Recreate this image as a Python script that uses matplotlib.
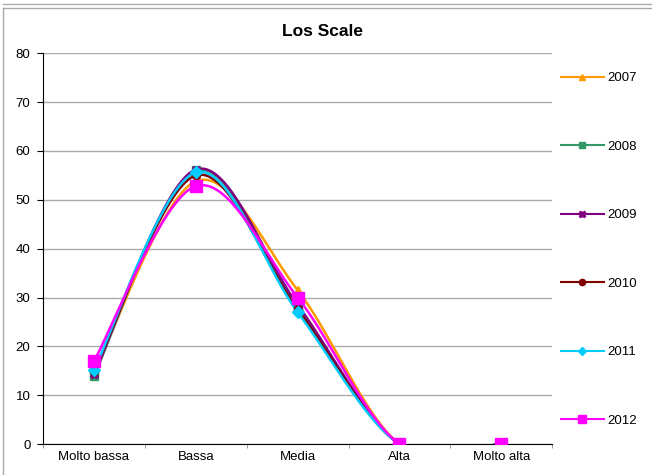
import numpy as np
import matplotlib.pyplot as plt
from matplotlib.lines import Line2D

plt.rcParams['font.family'] = ['Liberation Sans', 'DejaVu Sans']

# data
categories = ['Molto bassa', 'Bassa', 'Media', 'Alta', 'Molto alta']
years = ['2007', '2008', '2009', '2010', '2011', '2012']
v2007 = [14.7, 53.8, 31.5, 0, 0]
v2008 = [14.0, 56.0, 28.0, 0, 0]
v2009 = [14.3, 56.2, 28.5, 0, 0]
v2010 = [15.0, 55.0, 27.5, 0, 0]
v2011 = [15.2, 55.6, 27.0, 0, 0]
v2012 = [17.0, 52.8, 30.0, 0, 0]
series = [v2007, v2008, v2009, v2010, v2011, v2012]

colors = ['#FF9900', '#339966', '#800080', '#800000', '#00CCFF', '#FF00FF']
markers = ['^', 's', 'X', 'o', 'D', 's']
msizes = [6, 6, 6, 6, 6, 9]


def smooth(x, y, n=40):
    # excel-like smoothed line (bezier through points, catmull-rom tangents)
    x = np.asarray(x, float)
    y = np.asarray(y, float)
    xs, ys = [], []
    for i in range(len(x) - 1):
        p0 = np.array([x[max(i - 1, 0)], y[max(i - 1, 0)]])
        p1 = np.array([x[i], y[i]])
        p2 = np.array([x[i + 1], y[i + 1]])
        p3 = np.array([x[min(i + 2, len(x) - 1)], y[min(i + 2, len(x) - 1)]])
        c1 = p1 + (p2 - p0) / 6
        c2 = p2 - (p3 - p1) / 6
        t = np.linspace(0, 1, n)[:, None]
        pts = ((1 - t) ** 3 * p1 + 3 * (1 - t) ** 2 * t * c1
               + 3 * (1 - t) * t ** 2 * c2 + t ** 3 * p2)
        xs.extend(pts[:, 0])
        ys.extend(pts[:, 1])
    return np.array(xs), np.array(ys)


fig = plt.figure(figsize=(6.52, 4.75), dpi=100)
ax = fig.add_axes([0.066, 0.065, 0.781, 0.823])

xpos = np.arange(len(categories))
handles = []
for vals, c, m, ms, yr in zip(series, colors, markers, msizes, years):
    sx, sy = smooth(xpos, vals)
    ax.plot(sx, sy, color=c, lw=1.8, solid_capstyle='round', zorder=3)
    ax.plot(xpos, vals, ls='none', marker=m, ms=ms, color=c,
            markeredgecolor=c, zorder=4)
    handles.append(Line2D([0], [0], color=c, lw=1.5, marker=m,
                          ms=4.5 if ms < 8 else 5.5,
                          markeredgecolor=c, label=yr))

ax.set_xlim(-0.5, 4.5)
ax.set_ylim(0, 80)
ax.set_yticks(range(0, 81, 10))
ax.set_xticks(xpos)
ax.set_xticklabels(categories)
ax.set_xticks(np.arange(-0.5, 4.6, 1), minor=True)
ax.tick_params(axis='x', which='major', length=0, labelsize=9.5, pad=5)
ax.tick_params(axis='x', which='minor', length=3, direction='out', color='#888888')
ax.tick_params(axis='y', labelsize=9.5, length=4, direction='out', pad=5)
ax.grid(axis='y', color='#aaaaaa', lw=1)
ax.set_axisbelow(True)
for s in ['top', 'right']:
    ax.spines[s].set_visible(False)
ax.spines['left'].set_color('black')
ax.spines['bottom'].set_color('black')
ax.spines['bottom'].set_zorder(2.5)

fig.text(323 / 652, 1 - 32 / 475, 'Los Scale', fontsize=12.5, fontweight='bold',
         ha='center', va='center')

fig.legend(handles=handles, loc='upper left', bbox_to_anchor=(0.860, 0.848),
           frameon=False, fontsize=9.5, labelspacing=4.26, handlelength=3.26,
           handletextpad=0.3, borderaxespad=0, borderpad=0)

# chart area frame lines
fig.add_artist(Line2D([0.004, 1], [1 - 4 / 475, 1 - 4 / 475], color='#aaaaaa', lw=1))
fig.add_artist(Line2D([0.005, 1], [1 - 7.5 / 475, 1 - 7.5 / 475], color='#aaaaaa', lw=1))
fig.add_artist(Line2D([0.005, 0.005], [0, 1 - 7.5 / 475], color='#aaaaaa', lw=1))

fig.savefig('out.png', dpi=100)
